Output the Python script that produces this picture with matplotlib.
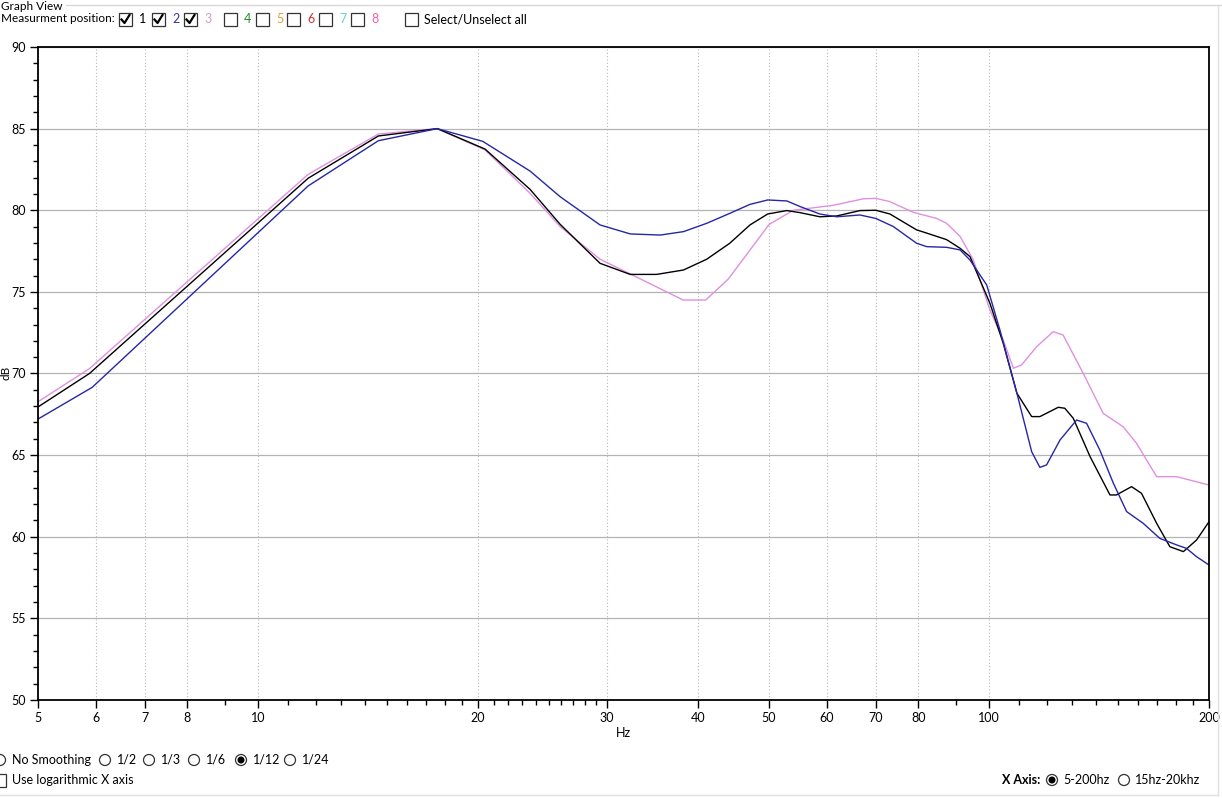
import matplotlib.pyplot as plt
from matplotlib.patches import Rectangle, Circle
from matplotlib.lines import Line2D
from matplotlib.ticker import FixedLocator, NullFormatter, MultipleLocator
from matplotlib.transforms import Affine2D

plt.rcParams['font.family'] = ['Lato', 'DejaVu Sans']

# Measurement position 1 (black)
freq_1 = [5.0, 5.88, 11.71, 14.61, 17.59, 20.44, 23.56, 25.9, 29.37, 32.3, 35.1, 38.2,
          41.1, 44.2, 47.1, 49.8, 52.9, 55.2, 58.7, 61.9, 66.6, 70.0, 73.2, 79.6, 82.2,
          87.5, 91.3, 94.2, 100.3, 104.6, 109.2, 114.4, 117.4, 124.4, 127.0, 130.4,
          137.5, 146.4, 149.4, 156.7, 161.7, 169.6, 176.8, 184.5, 192.3, 200.0]
db_1 = [67.95, 70.0, 81.96, 84.55, 85.0, 83.75, 81.28, 79.14, 76.75, 76.07, 76.07, 76.34,
        77.0, 77.98, 79.1, 79.77, 79.98, 79.85, 79.6, 79.65, 79.98, 80.0, 79.77, 78.8, 78.6,
        78.2, 77.67, 77.16, 74.3, 71.85, 68.79, 67.36, 67.36, 67.93, 67.87, 67.26,
        64.91, 62.56, 62.56, 63.07, 62.66, 60.82, 59.39, 59.09, 59.8, 60.92]

# Measurement position 2 (blue)
freq_2 = [5.0, 5.93, 11.71, 14.61, 17.59, 20.3, 23.56, 25.9, 29.37, 32.3, 35.5, 38.2,
          41.1, 44.2, 47.1, 49.8, 52.9, 55.2, 58.7, 61.9, 66.6, 70.0, 74.0, 79.6, 82.2,
          87.5, 91.3, 94.2, 99.3, 103.5, 109.2, 114.4, 117.4, 119.9, 125.1, 131.8,
          136.0, 141.8, 148.0, 154.3, 162.6, 171.3, 180.6, 186.3, 192.3, 200.0]
db_2 = [67.21, 69.15, 81.49, 84.26, 85.0, 84.22, 82.4, 80.83, 79.1, 78.55, 78.48, 78.69,
        79.2, 79.81, 80.36, 80.63, 80.57, 80.22, 79.77, 79.6, 79.71, 79.5, 79.0, 77.98, 77.77,
        77.73, 77.57, 76.95, 75.42, 72.67, 68.79, 65.21, 64.25, 64.4, 65.93, 67.15,
        66.95, 65.31, 63.27, 61.54, 60.82, 59.9, 59.5, 59.29, 58.78, 58.27]

# Measurement position 3 (violet)
freq_3 = [5.0, 5.88, 11.71, 14.61, 17.59, 20.44, 23.56, 25.9, 29.37, 32.3, 35.1, 38.17,
          40.97, 44.0, 50.05, 54.0, 61.2, 67.3, 70.0, 73.2, 78.8, 84.8, 87.5, 91.3, 95.2,
          100.3, 104.6, 108.0, 110.8, 116.2, 122.4, 126.3, 134.6, 143.3, 152.6, 159.2,
          169.6, 180.6, 200.0]
db_3 = [68.27, 70.3, 82.2, 84.67, 85.0, 83.7, 81.04, 79.0, 77.0, 76.1, 75.3, 74.5,
        74.5, 75.79, 79.14, 80.0, 80.3, 80.7, 80.73, 80.53, 79.87, 79.5, 79.2, 78.4, 76.95,
        73.89, 72.05, 70.32, 70.52, 71.64, 72.56, 72.36, 70.0, 67.56, 66.74, 65.72,
        63.68, 63.68, 63.17]

major_x = [5, 6, 7, 8, 10, 20, 30, 40, 50, 60, 70, 80, 100, 200]
minor_x = [9] + list(range(11, 20)) + list(range(21, 30)) + [90] + list(range(110, 200, 10))

fig = plt.figure(figsize=(12.22, 7.98), dpi=100)
# pixel coords with origin at top-left
T = Affine2D().scale(1 / 100, -1 / 100).translate(0, 7.98) + fig.dpi_scale_trans

ax = fig.add_axes([38 / 1222, 1 - 700 / 798, (1209 - 38) / 1222, (700 - 47) / 798])
ax.plot(freq_3, db_3, color='#e090e0', lw=1.0)
ax.plot(freq_1, db_1, color='#000000', lw=1.0)
ax.plot(freq_2, db_2, color='#2626a6', lw=1.0)

ax.set_xscale('log')
ax.set_xlim(5, 200)
ax.set_ylim(50, 90)
ax.xaxis.set_major_locator(FixedLocator(major_x))
ax.set_xticklabels([str(v) for v in major_x])
ax.xaxis.set_minor_locator(FixedLocator(minor_x))
ax.xaxis.set_minor_formatter(NullFormatter())
ax.yaxis.set_major_locator(MultipleLocator(5))
ax.yaxis.set_minor_locator(MultipleLocator(1))

ax.grid(axis='x', which='major', linestyle=(0, (1, 2)), color='#b8b8b8', lw=0.8)
ax.grid(axis='y', which='major', linestyle='-', color='#b4b4b4', lw=0.9)
ax.tick_params(which='major', direction='out', length=6, width=1, labelsize=9, colors='black', pad=2.5)
ax.tick_params(which='minor', direction='out', length=3.5, width=1)
for s in ax.spines.values():
    s.set_color('black')
    s.set_linewidth(1.3)

ax.set_xlabel('Hz', fontsize=9, labelpad=2)
fig.text(6, 373, 'dB', fontsize=8.5, rotation=90, ha='center', va='center', transform=T)

# ---- header controls ----
fig.add_artist(Line2D([66, 1222], [5, 5], color='#d8d8d8', lw=1, transform=T))
fig.add_artist(Line2D([1218, 1218], [5, 795], color='#e0e0e0', lw=1, transform=T))
fig.add_artist(Line2D([0, 1218], [795, 795], color='#e0e0e0', lw=1, transform=T))
fig.text(1, 6, 'Graph View', fontsize=8.5, va='center', transform=T)
fig.text(1, 19, 'Measurment position:', fontsize=8.5, va='center', transform=T)

boxes = [119, 152, 184, 224, 256, 287, 319, 351]
labels = ['1', '2', '3', '4', '5', '6', '7', '8']
label_colors = ['#000000', '#3434a8', '#d49ad4', '#2a8a2a', '#e0a030', '#d03030', '#60d0d0', '#f060a0']
checked = [True, True, True, False, False, False, False, False]


def checkbox(x, y, on):
    fig.add_artist(Rectangle((x, y - 6.5), 13, 13, fill=False, ec='#333333', lw=0.9, transform=T))
    if on:
        fig.add_artist(Line2D([x + 2.5, x + 5.5, x + 10.5], [y + 0.5, y + 4, y - 4],
                              color='black', lw=1.6, transform=T))


for bx, lab, col, on in zip(boxes, labels, label_colors, checked):
    checkbox(bx, 19, on)
    fig.text(bx + 20, 19, lab, fontsize=9, color=col, va='center', transform=T)
checkbox(405, 19, False)
fig.text(424, 19, 'Select/Unselect all', fontsize=9, va='center', transform=T)


# ---- footer controls ----
def radio(x, y, on):
    fig.add_artist(Circle((x, y), 5.5, fill=False, ec='#333333', lw=0.9, transform=T))
    if on:
        fig.add_artist(Circle((x, y), 2.8, color='black', transform=T))


radios = [(0, 'No Smoothing', False), (105, '1/2', False), (149, '1/3', False),
          (194, '1/6', False), (241, '1/12', True), (290, '1/24', False)]
for rx, lab, on in radios:
    radio(rx, 760, on)
    fig.text(rx + 12, 760, lab, fontsize=9, va='center', transform=T)

fig.add_artist(Rectangle((-7, 774), 13, 13, fill=False, ec='#333333', lw=0.9, transform=T))
fig.text(12, 780, 'Use logarithmic X axis', fontsize=9, va='center', transform=T)

fig.text(1002, 780, 'X Axis:', fontsize=9, fontweight='bold', va='center', transform=T)
radio(1052, 780, True)
fig.text(1063, 780, '5-200hz', fontsize=9, va='center', transform=T)
radio(1124, 780, False)
fig.text(1135, 780, '15hz-20khz', fontsize=9, va='center', transform=T)

fig.savefig('out.png', dpi=100)
